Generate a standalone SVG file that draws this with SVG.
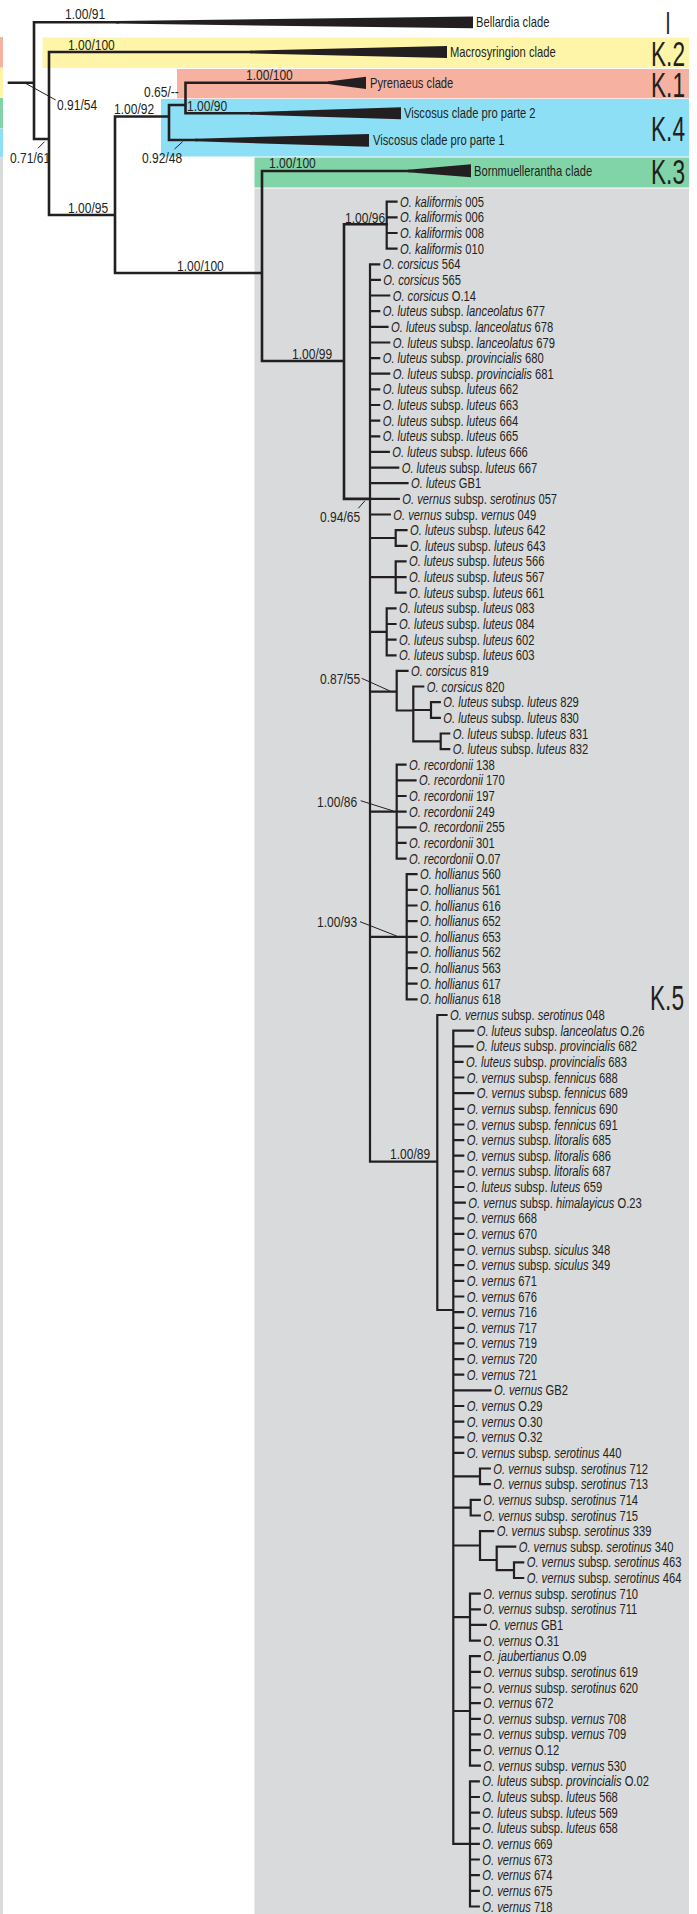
<svg xmlns="http://www.w3.org/2000/svg" width="697" height="1914" viewBox="0 0 697 1914">
<style>
text{font-family:"Liberation Sans",Arial,sans-serif;fill:#231f20}
.t{font-size:14px}
.s{font-size:14.5px}
.K{font-size:36px;text-anchor:middle}
.i{font-style:italic}
.brt{fill:none;stroke:#231f20;stroke-width:2.6;stroke-linecap:square}
.br{fill:none;stroke:#231f20;stroke-width:2.2;stroke-linecap:square}
.ld{fill:none;stroke:#231f20;stroke-width:1}
.tri{fill:#231f20}
</style>
<g id="bands">
<rect x="0" y="0" width="697" height="1914" fill="#ffffff"/>
<rect x="0" y="37" width="3" height="30.5" fill="#f6b1a1"/>
<rect x="0" y="68" width="3" height="29.5" fill="#fef5a9"/>
<rect x="0" y="98" width="3" height="30.5" fill="#80d4a7"/>
<rect x="0" y="129" width="3" height="28.5" fill="#8ddff6"/>
<rect x="0" y="158" width="3" height="1756" fill="#d9dadb"/>
<rect x="42.5" y="37.5" width="646.5" height="30.5" fill="#fef5a9"/>
<rect x="177" y="69" width="512" height="29.3" fill="#f6b1a1"/>
<rect x="161" y="99" width="528" height="57.5" fill="#8ddff6"/>
<rect x="254.5" y="157.5" width="434.5" height="30" fill="#80d4a7"/>
<rect x="254.5" y="188.5" width="434.5" height="1725.5" fill="#d9dadb"/>
</g>
<g id="connectors">
<path class="brt" d="M9,82.7H34M34,22.3V139M34,22.3H118M34,139H49M49,52V215M49,52H252M49,215H115M115,116.5V273M115,116.5H169M115,273H262M169,105V140M169,105H185.5M169,140H197M185.5,82.7V113.3M185.5,82.7H330M185.5,113.3H252M262,171V361M262,171H410M262,361H344M344,224.3V498.9M344,224.3H386.7M344,498.9H370"/>
<polygon class="tri" points="116,21 473,16.6 473,28.2 116,23.6"/>
<polygon class="tri" points="250,50.7 447,46 447,58 250,53.3"/>
<polygon class="tri" points="328,81.4 366,76.7 366,89 328,84"/>
<polygon class="tri" points="250,112 401,107.3 401,119.3 250,114.6"/>
<polygon class="tri" points="195,138.7 369,134 369,146.7 195,141.3"/>
<polygon class="tri" points="408,169.7 471,164.3 471,177.3 408,172.3"/>
<path class="br" d="M386.7,201.7V248.6M386.7,201.7H396.5M386.7,217.3H396.5M386.7,233H396.5M386.7,248.6H396.5
M370,264.3V1161.7
M370,264.3H379.2M370,279.9H379.8M370,295.5H389.2M370,311.2H379.2M370,326.8H387.5M370,342.5H389.2M370,358.1H379.2M370,373.7H389.2M370,389.4H379.2M370,405H379.2M370,420.7H379.2M370,436.3H379.2M370,451.9H388.8M370,467.6H398.2M370,483.2H407.5M370,498.9H398.8M370,514.5H389.8
M370,538H395.7M395.7,530.1V545.8M395.7,530.1H406.5M395.7,545.8H406.5
M370,577.1H395.7M395.7,561.4V592.7M395.7,561.4H405.5M395.7,577.1H405.5M395.7,592.7H405.5
M370,631.8H386.7M386.7,608.3V655.3M386.7,608.3H395.5M386.7,624H395.5M386.7,639.6H395.5M386.7,655.3H395.5
M370,691.7H396.7M396.7,670.9V710.5M396.7,670.9H407.5M396.7,710.5H413.3
M413.3,686.5V741.3M413.3,686.5H423.2M413.3,710H431M413.3,741.3H440.7
M431,702.2V717.8M431,702.2H439.8M431,717.8H439.8
M440.7,733.5V749.1M440.7,733.5H449.2M440.7,749.1H449.2
M370,811.7H396.7M396.7,764.7V858.6M396.7,764.7H405.5M396.7,780.4H415.5M396.7,796H405.5M396.7,811.7H405.5M396.7,827.3H415.5M396.7,842.9H405.5M396.7,858.6H405.5
M370,936.8H406.7M406.7,874.2V999.3M406.7,874.2H416.5M406.7,889.9H416.5M406.7,905.5H416.5M406.7,921.1H416.5M406.7,936.8H416.5M406.7,952.4H416.5M406.7,968.1H416.5M406.7,983.7H416.5M406.7,999.3H416.5
M370,1161.7H437.3M437.3,1015V1310M437.3,1015H446.5M437.3,1310H453.3
M453.3,1030.6V1843.9
M453.3,1030.6H473.2M453.3,1046.3H472.5M453.3,1061.9H462.5M453.3,1077.5H463.2M453.3,1093.2H473.2M453.3,1108.8H463.2M453.3,1124.5H463.2M453.3,1140.1H463.2M453.3,1155.7H463.2M453.3,1171.4H463.2M453.3,1187H463.2M453.3,1202.7H464.8M453.3,1218.3H463.2M453.3,1233.9H463.2M453.3,1249.6H463.2M453.3,1265.2H463.2M453.3,1280.9H463.2M453.3,1296.5H463.2M453.3,1312.1H463.2M453.3,1327.8H463.2M453.3,1343.4H463.2M453.3,1359.1H463.2M453.3,1374.7H463.2M453.3,1390.3H490.5M453.3,1406H463.2M453.3,1421.6H463.2M453.3,1437.3H463.2M453.3,1452.9H463.2
M453.3,1476.4H480M480,1468.5V1484.2M480,1468.5H489.8M480,1484.2H489.8
M453.3,1507.7H470.7M470.7,1499.8V1515.5M470.7,1499.8H479.8M470.7,1515.5H479.8
M453.3,1545.5H480M480,1531.1V1560M480,1531.1H493.2M480,1560H496.7
M496.7,1546.7V1570.2M496.7,1546.7H515.2M496.7,1570.2H514
M514,1562.4V1578M514,1562.4H523.2M514,1578H523.2
M453.3,1617.1H470M470,1593.7V1640.6M470,1593.7H479.8M470,1609.3H479.8M470,1624.9H485.8M470,1640.6H479.8
M453.3,1711H470M470,1656.2V1765.7M470,1656.2H479.8M470,1671.9H479.8M470,1687.5H479.8M470,1703.1H479.8M470,1718.8H479.8M470,1734.4H479.8M470,1750.1H479.8M470,1765.7H479.8
M453.3,1843.9H470M470,1781.3V1906.5M470,1781.3H478.8M470,1797H478.8M470,1812.6H478.8M470,1828.3H478.8M470,1843.9H478.8M470,1859.5H478.8M470,1875.2H478.8M470,1890.8H478.8M470,1906.5H478.8"/>
<path class="ld" d="M25.5,83.3L55.7,100M44.5,141.7L37.9,148.3M182.6,141.7L174.6,149M365,500.7L358.3,508.3M361.7,678.3L390,691M360.7,800.7L393.3,811M360,921.7L396.7,936"/>
</g>
<g id="support">
<text class="s" transform="translate(65,19) scale(0.83,1)">1.00/91</text>
<text class="s" transform="translate(68,49.5) scale(0.83,1)">1.00/100</text>
<text class="s" transform="translate(57,110) scale(0.83,1)">0.91/54</text>
<text class="s" transform="translate(10,163) scale(0.83,1)">0.71/61</text>
<text class="s" transform="translate(246,80) scale(0.83,1)">1.00/100</text>
<text class="s" transform="translate(144,97) scale(0.83,1)">0.65/--</text>
<text class="s" transform="translate(187,110.5) scale(0.83,1)">1.00/90</text>
<text class="s" transform="translate(114,114) scale(0.83,1)">1.00/92</text>
<text class="s" transform="translate(142,163) scale(0.83,1)">0.92/48</text>
<text class="s" transform="translate(68,212.5) scale(0.83,1)">1.00/95</text>
<text class="s" transform="translate(177,270.5) scale(0.83,1)">1.00/100</text>
<text class="s" transform="translate(269,167.5) scale(0.83,1)">1.00/100</text>
<text class="s" transform="translate(345,222.5) scale(0.83,1)">1.00/96</text>
<text class="s" transform="translate(292,358.5) scale(0.83,1)">1.00/99</text>
<text class="s" transform="translate(320,521.5) scale(0.83,1)">0.94/65</text>
<text class="s" transform="translate(320,684) scale(0.83,1)">0.87/55</text>
<text class="s" transform="translate(317,806.5) scale(0.83,1)">1.00/86</text>
<text class="s" transform="translate(317,927.3) scale(0.83,1)">1.00/93</text>
<text class="s" transform="translate(390,1159) scale(0.83,1)">1.00/89</text>
</g>
<g id="clade-labels">
<g id="bellardia"><text class="t" transform="translate(476,27) scale(0.8,1)">Bellardia clade</text></g>
<g id="macrosyringion"><text class="t" transform="translate(450,57) scale(0.8,1)">Macrosyringion clade</text></g>
<g id="pyrenaeus"><text class="t" transform="translate(370,87.7) scale(0.8,1)">Pyrenaeus clade</text></g>
<g id="viscosus2"><text class="t" transform="translate(404,118.3) scale(0.8,1)">Viscosus clade pro parte 2</text></g>
<g id="viscosus1"><text class="t" transform="translate(373,145) scale(0.8,1)">Viscosus clade pro parte 1</text></g>
<g id="bornmuellerantha"><text class="t" transform="translate(474,176) scale(0.8,1)">Bornmuellerantha clade</text></g>
<g id="lab-I"><text class="K" style="font-size:31px" transform="translate(668,34) scale(0.63,1)">I</text></g>
<g id="lab-K2"><text class="K" transform="translate(668,65.7) scale(0.63,1)">K.2</text></g>
<g id="lab-K1"><text class="K" transform="translate(668,96.7) scale(0.63,1)">K.1</text></g>
<g id="lab-K4"><text class="K" transform="translate(668,140.7) scale(0.63,1)">K.4</text></g>
<g id="lab-K3"><text class="K" transform="translate(668,184.3) scale(0.63,1)">K.3</text></g>
<g id="lab-K5"><text class="K" transform="translate(667,1010) scale(0.63,1)">K.5</text></g>
</g>
<g id="tips" class="t">
<g id="tip1"><text class="t" transform="translate(400,206.7) scale(0.8,1)"><tspan class="i">O. kaliformis</tspan> 005</text></g>
<g id="tip2"><text class="t" transform="translate(400,222.3) scale(0.8,1)"><tspan class="i">O. kaliformis</tspan> 006</text></g>
<g id="tip3"><text class="t" transform="translate(400,238) scale(0.8,1)"><tspan class="i">O. kaliformis</tspan> 008</text></g>
<g id="tip4"><text class="t" transform="translate(400,253.6) scale(0.8,1)"><tspan class="i">O. kaliformis</tspan> 010</text></g>
<g id="tip5"><text class="t" transform="translate(382.7,269.3) scale(0.8,1)"><tspan class="i">O. corsicus</tspan> 564</text></g>
<g id="tip6"><text class="t" transform="translate(383.3,284.9) scale(0.8,1)"><tspan class="i">O. corsicus</tspan> 565</text></g>
<g id="tip7"><text class="t" transform="translate(392.7,300.5) scale(0.8,1)"><tspan class="i">O. corsicus</tspan> O.14</text></g>
<g id="tip8"><text class="t" transform="translate(382.7,316.2) scale(0.8,1)"><tspan class="i">O. luteus</tspan> subsp. <tspan class="i">lanceolatus</tspan> 677</text></g>
<g id="tip9"><text class="t" transform="translate(391,331.8) scale(0.8,1)"><tspan class="i">O. luteus</tspan> subsp. <tspan class="i">lanceolatus</tspan> 678</text></g>
<g id="tip10"><text class="t" transform="translate(392.7,347.5) scale(0.8,1)"><tspan class="i">O. luteus</tspan> subsp. <tspan class="i">lanceolatus</tspan> 679</text></g>
<g id="tip11"><text class="t" transform="translate(382.7,363.1) scale(0.8,1)"><tspan class="i">O. luteus</tspan> subsp. <tspan class="i">provincialis</tspan> 680</text></g>
<g id="tip12"><text class="t" transform="translate(392.7,378.7) scale(0.8,1)"><tspan class="i">O. luteus</tspan> subsp. <tspan class="i">provincialis</tspan> 681</text></g>
<g id="tip13"><text class="t" transform="translate(382.7,394.4) scale(0.8,1)"><tspan class="i">O. luteus</tspan> subsp. <tspan class="i">luteus</tspan> 662</text></g>
<g id="tip14"><text class="t" transform="translate(382.7,410) scale(0.8,1)"><tspan class="i">O. luteus</tspan> subsp. <tspan class="i">luteus</tspan> 663</text></g>
<g id="tip15"><text class="t" transform="translate(382.7,425.7) scale(0.8,1)"><tspan class="i">O. luteus</tspan> subsp. <tspan class="i">luteus</tspan> 664</text></g>
<g id="tip16"><text class="t" transform="translate(382.7,441.3) scale(0.8,1)"><tspan class="i">O. luteus</tspan> subsp. <tspan class="i">luteus</tspan> 665</text></g>
<g id="tip17"><text class="t" transform="translate(392.3,456.9) scale(0.8,1)"><tspan class="i">O. luteus</tspan> subsp. <tspan class="i">luteus</tspan> 666</text></g>
<g id="tip18"><text class="t" transform="translate(401.7,472.6) scale(0.8,1)"><tspan class="i">O. luteus</tspan> subsp. <tspan class="i">luteus</tspan> 667</text></g>
<g id="tip19"><text class="t" transform="translate(411,488.2) scale(0.8,1)"><tspan class="i">O. luteus</tspan> GB1</text></g>
<g id="tip20"><text class="t" transform="translate(402.3,503.9) scale(0.8,1)"><tspan class="i">O. vernus</tspan> subsp. <tspan class="i">serotinus</tspan> 057</text></g>
<g id="tip21"><text class="t" transform="translate(393.3,519.5) scale(0.8,1)"><tspan class="i">O. vernus</tspan> subsp. <tspan class="i">vernus</tspan> 049</text></g>
<g id="tip22"><text class="t" transform="translate(410,535.1) scale(0.8,1)"><tspan class="i">O. luteus</tspan> subsp. <tspan class="i">luteus</tspan> 642</text></g>
<g id="tip23"><text class="t" transform="translate(410,550.8) scale(0.8,1)"><tspan class="i">O. luteus</tspan> subsp. <tspan class="i">luteus</tspan> 643</text></g>
<g id="tip24"><text class="t" transform="translate(409,566.4) scale(0.8,1)"><tspan class="i">O. luteus</tspan> subsp. <tspan class="i">luteus</tspan> 566</text></g>
<g id="tip25"><text class="t" transform="translate(409,582.1) scale(0.8,1)"><tspan class="i">O. luteus</tspan> subsp. <tspan class="i">luteus</tspan> 567</text></g>
<g id="tip26"><text class="t" transform="translate(409,597.7) scale(0.8,1)"><tspan class="i">O. luteus</tspan> subsp. <tspan class="i">luteus</tspan> 661</text></g>
<g id="tip27"><text class="t" transform="translate(399,613.3) scale(0.8,1)"><tspan class="i">O. luteus</tspan> subsp. <tspan class="i">luteus</tspan> 083</text></g>
<g id="tip28"><text class="t" transform="translate(399,629) scale(0.8,1)"><tspan class="i">O. luteus</tspan> subsp. <tspan class="i">luteus</tspan> 084</text></g>
<g id="tip29"><text class="t" transform="translate(399,644.6) scale(0.8,1)"><tspan class="i">O. luteus</tspan> subsp. <tspan class="i">luteus</tspan> 602</text></g>
<g id="tip30"><text class="t" transform="translate(399,660.3) scale(0.8,1)"><tspan class="i">O. luteus</tspan> subsp. <tspan class="i">luteus</tspan> 603</text></g>
<g id="tip31"><text class="t" transform="translate(411,675.9) scale(0.8,1)"><tspan class="i">O. corsicus</tspan> 819</text></g>
<g id="tip32"><text class="t" transform="translate(426.7,691.5) scale(0.8,1)"><tspan class="i">O. corsicus</tspan> 820</text></g>
<g id="tip33"><text class="t" transform="translate(443.3,707.2) scale(0.8,1)"><tspan class="i">O. luteus</tspan> subsp. <tspan class="i">luteus</tspan> 829</text></g>
<g id="tip34"><text class="t" transform="translate(443.3,722.8) scale(0.8,1)"><tspan class="i">O. luteus</tspan> subsp. <tspan class="i">luteus</tspan> 830</text></g>
<g id="tip35"><text class="t" transform="translate(452.7,738.5) scale(0.8,1)"><tspan class="i">O. luteus</tspan> subsp. <tspan class="i">luteus</tspan> 831</text></g>
<g id="tip36"><text class="t" transform="translate(452.7,754.1) scale(0.8,1)"><tspan class="i">O. luteus</tspan> subsp. <tspan class="i">luteus</tspan> 832</text></g>
<g id="tip37"><text class="t" transform="translate(409,769.7) scale(0.8,1)"><tspan class="i">O. recordonii</tspan> 138</text></g>
<g id="tip38"><text class="t" transform="translate(419,785.4) scale(0.8,1)"><tspan class="i">O. recordonii</tspan> 170</text></g>
<g id="tip39"><text class="t" transform="translate(409,801) scale(0.8,1)"><tspan class="i">O. recordonii</tspan> 197</text></g>
<g id="tip40"><text class="t" transform="translate(409,816.7) scale(0.8,1)"><tspan class="i">O. recordonii</tspan> 249</text></g>
<g id="tip41"><text class="t" transform="translate(419,832.3) scale(0.8,1)"><tspan class="i">O. recordonii</tspan> 255</text></g>
<g id="tip42"><text class="t" transform="translate(409,847.9) scale(0.8,1)"><tspan class="i">O. recordonii</tspan> 301</text></g>
<g id="tip43"><text class="t" transform="translate(409,863.6) scale(0.8,1)"><tspan class="i">O. recordonii</tspan> O.07</text></g>
<g id="tip44"><text class="t" transform="translate(420,879.2) scale(0.8,1)"><tspan class="i">O. hollianus</tspan> 560</text></g>
<g id="tip45"><text class="t" transform="translate(420,894.9) scale(0.8,1)"><tspan class="i">O. hollianus</tspan> 561</text></g>
<g id="tip46"><text class="t" transform="translate(420,910.5) scale(0.8,1)"><tspan class="i">O. hollianus</tspan> 616</text></g>
<g id="tip47"><text class="t" transform="translate(420,926.1) scale(0.8,1)"><tspan class="i">O. hollianus</tspan> 652</text></g>
<g id="tip48"><text class="t" transform="translate(420,941.8) scale(0.8,1)"><tspan class="i">O. hollianus</tspan> 653</text></g>
<g id="tip49"><text class="t" transform="translate(420,957.4) scale(0.8,1)"><tspan class="i">O. hollianus</tspan> 562</text></g>
<g id="tip50"><text class="t" transform="translate(420,973.1) scale(0.8,1)"><tspan class="i">O. hollianus</tspan> 563</text></g>
<g id="tip51"><text class="t" transform="translate(420,988.7) scale(0.8,1)"><tspan class="i">O. hollianus</tspan> 617</text></g>
<g id="tip52"><text class="t" transform="translate(420,1004.3) scale(0.8,1)"><tspan class="i">O. hollianus</tspan> 618</text></g>
<g id="tip53"><text class="t" transform="translate(450,1020) scale(0.8,1)"><tspan class="i">O. vernus</tspan> subsp. <tspan class="i">serotinus</tspan> 048</text></g>
<g id="tip54"><text class="t" transform="translate(476.7,1035.6) scale(0.8,1)"><tspan class="i">O. luteus</tspan> subsp. <tspan class="i">lanceolatus</tspan> O.26</text></g>
<g id="tip55"><text class="t" transform="translate(476,1051.3) scale(0.8,1)"><tspan class="i">O. luteus</tspan> subsp. <tspan class="i">provincialis</tspan> 682</text></g>
<g id="tip56"><text class="t" transform="translate(466,1066.9) scale(0.8,1)"><tspan class="i">O. luteus</tspan> subsp. <tspan class="i">provincialis</tspan> 683</text></g>
<g id="tip57"><text class="t" transform="translate(466.7,1082.5) scale(0.8,1)"><tspan class="i">O. vernus</tspan> subsp. <tspan class="i">fennicus</tspan> 688</text></g>
<g id="tip58"><text class="t" transform="translate(476.7,1098.2) scale(0.8,1)"><tspan class="i">O. vernus</tspan> subsp. <tspan class="i">fennicus</tspan> 689</text></g>
<g id="tip59"><text class="t" transform="translate(466.7,1113.8) scale(0.8,1)"><tspan class="i">O. vernus</tspan> subsp. <tspan class="i">fennicus</tspan> 690</text></g>
<g id="tip60"><text class="t" transform="translate(466.7,1129.5) scale(0.8,1)"><tspan class="i">O. vernus</tspan> subsp. <tspan class="i">fennicus</tspan> 691</text></g>
<g id="tip61"><text class="t" transform="translate(466.7,1145.1) scale(0.8,1)"><tspan class="i">O. vernus</tspan> subsp. <tspan class="i">litoralis</tspan> 685</text></g>
<g id="tip62"><text class="t" transform="translate(466.7,1160.7) scale(0.8,1)"><tspan class="i">O. vernus</tspan> subsp. <tspan class="i">litoralis</tspan> 686</text></g>
<g id="tip63"><text class="t" transform="translate(466.7,1176.4) scale(0.8,1)"><tspan class="i">O. vernus</tspan> subsp. <tspan class="i">litoralis</tspan> 687</text></g>
<g id="tip64"><text class="t" transform="translate(466.7,1192) scale(0.8,1)"><tspan class="i">O. luteus</tspan> subsp. <tspan class="i">luteus</tspan> 659</text></g>
<g id="tip65"><text class="t" transform="translate(468.3,1207.7) scale(0.8,1)"><tspan class="i">O. vernus</tspan> subsp. <tspan class="i">himalayicus</tspan> O.23</text></g>
<g id="tip66"><text class="t" transform="translate(466.7,1223.3) scale(0.8,1)"><tspan class="i">O. vernus</tspan> 668</text></g>
<g id="tip67"><text class="t" transform="translate(466.7,1238.9) scale(0.8,1)"><tspan class="i">O. vernus</tspan> 670</text></g>
<g id="tip68"><text class="t" transform="translate(466.7,1254.6) scale(0.8,1)"><tspan class="i">O. vernus</tspan> subsp. <tspan class="i">siculus</tspan> 348</text></g>
<g id="tip69"><text class="t" transform="translate(466.7,1270.2) scale(0.8,1)"><tspan class="i">O. vernus</tspan> subsp. <tspan class="i">siculus</tspan> 349</text></g>
<g id="tip70"><text class="t" transform="translate(466.7,1285.9) scale(0.8,1)"><tspan class="i">O. vernus</tspan> 671</text></g>
<g id="tip71"><text class="t" transform="translate(466.7,1301.5) scale(0.8,1)"><tspan class="i">O. vernus</tspan> 676</text></g>
<g id="tip72"><text class="t" transform="translate(466.7,1317.1) scale(0.8,1)"><tspan class="i">O. vernus</tspan> 716</text></g>
<g id="tip73"><text class="t" transform="translate(466.7,1332.8) scale(0.8,1)"><tspan class="i">O. vernus</tspan> 717</text></g>
<g id="tip74"><text class="t" transform="translate(466.7,1348.4) scale(0.8,1)"><tspan class="i">O. vernus</tspan> 719</text></g>
<g id="tip75"><text class="t" transform="translate(466.7,1364.1) scale(0.8,1)"><tspan class="i">O. vernus</tspan> 720</text></g>
<g id="tip76"><text class="t" transform="translate(466.7,1379.7) scale(0.8,1)"><tspan class="i">O. vernus</tspan> 721</text></g>
<g id="tip77"><text class="t" transform="translate(494,1395.3) scale(0.8,1)"><tspan class="i">O. vernus</tspan> GB2</text></g>
<g id="tip78"><text class="t" transform="translate(466.7,1411) scale(0.8,1)"><tspan class="i">O. vernus</tspan> O.29</text></g>
<g id="tip79"><text class="t" transform="translate(466.7,1426.6) scale(0.8,1)"><tspan class="i">O. vernus</tspan> O.30</text></g>
<g id="tip80"><text class="t" transform="translate(466.7,1442.3) scale(0.8,1)"><tspan class="i">O. vernus</tspan> O.32</text></g>
<g id="tip81"><text class="t" transform="translate(466.7,1457.9) scale(0.8,1)"><tspan class="i">O. vernus</tspan> subsp. <tspan class="i">serotinus</tspan> 440</text></g>
<g id="tip82"><text class="t" transform="translate(493.3,1473.5) scale(0.8,1)"><tspan class="i">O. vernus</tspan> subsp. <tspan class="i">serotinus</tspan> 712</text></g>
<g id="tip83"><text class="t" transform="translate(493.3,1489.2) scale(0.8,1)"><tspan class="i">O. vernus</tspan> subsp. <tspan class="i">serotinus</tspan> 713</text></g>
<g id="tip84"><text class="t" transform="translate(483.3,1504.8) scale(0.8,1)"><tspan class="i">O. vernus</tspan> subsp. <tspan class="i">serotinus</tspan> 714</text></g>
<g id="tip85"><text class="t" transform="translate(483.3,1520.5) scale(0.8,1)"><tspan class="i">O. vernus</tspan> subsp. <tspan class="i">serotinus</tspan> 715</text></g>
<g id="tip86"><text class="t" transform="translate(496.7,1536.1) scale(0.8,1)"><tspan class="i">O. vernus</tspan> subsp. <tspan class="i">serotinus</tspan> 339</text></g>
<g id="tip87"><text class="t" transform="translate(518.7,1551.7) scale(0.8,1)"><tspan class="i">O. vernus</tspan> subsp. <tspan class="i">serotinus</tspan> 340</text></g>
<g id="tip88"><text class="t" transform="translate(526.7,1567.4) scale(0.8,1)"><tspan class="i">O. vernus</tspan> subsp. <tspan class="i">serotinus</tspan> 463</text></g>
<g id="tip89"><text class="t" transform="translate(526.7,1583) scale(0.8,1)"><tspan class="i">O. vernus</tspan> subsp. <tspan class="i">serotinus</tspan> 464</text></g>
<g id="tip90"><text class="t" transform="translate(483.3,1598.7) scale(0.8,1)"><tspan class="i">O. vernus</tspan> subsp. <tspan class="i">serotinus</tspan> 710</text></g>
<g id="tip91"><text class="t" transform="translate(483.3,1614.3) scale(0.8,1)"><tspan class="i">O. vernus</tspan> subsp. <tspan class="i">serotinus</tspan> 711</text></g>
<g id="tip92"><text class="t" transform="translate(489.3,1629.9) scale(0.8,1)"><tspan class="i">O. vernus</tspan> GB1</text></g>
<g id="tip93"><text class="t" transform="translate(483.3,1645.6) scale(0.8,1)"><tspan class="i">O. vernus</tspan> O.31</text></g>
<g id="tip94"><text class="t" transform="translate(483.3,1661.2) scale(0.8,1)"><tspan class="i">O. jaubertianus</tspan> O.09</text></g>
<g id="tip95"><text class="t" transform="translate(483.3,1676.9) scale(0.8,1)"><tspan class="i">O. vernus</tspan> subsp. <tspan class="i">serotinus</tspan> 619</text></g>
<g id="tip96"><text class="t" transform="translate(483.3,1692.5) scale(0.8,1)"><tspan class="i">O. vernus</tspan> subsp. <tspan class="i">serotinus</tspan> 620</text></g>
<g id="tip97"><text class="t" transform="translate(483.3,1708.1) scale(0.8,1)"><tspan class="i">O. vernus</tspan> 672</text></g>
<g id="tip98"><text class="t" transform="translate(483.3,1723.8) scale(0.8,1)"><tspan class="i">O. vernus</tspan> subsp. <tspan class="i">vernus</tspan> 708</text></g>
<g id="tip99"><text class="t" transform="translate(483.3,1739.4) scale(0.8,1)"><tspan class="i">O. vernus</tspan> subsp. <tspan class="i">vernus</tspan> 709</text></g>
<g id="tip100"><text class="t" transform="translate(483.3,1755.1) scale(0.8,1)"><tspan class="i">O. vernus</tspan> O.12</text></g>
<g id="tip101"><text class="t" transform="translate(483.3,1770.7) scale(0.8,1)"><tspan class="i">O. vernus</tspan> subsp. <tspan class="i">vernus</tspan> 530</text></g>
<g id="tip102"><text class="t" transform="translate(482.3,1786.3) scale(0.8,1)"><tspan class="i">O. luteus</tspan> subsp. <tspan class="i">provincialis</tspan> O.02</text></g>
<g id="tip103"><text class="t" transform="translate(482.3,1802) scale(0.8,1)"><tspan class="i">O. luteus</tspan> subsp. <tspan class="i">luteus</tspan> 568</text></g>
<g id="tip104"><text class="t" transform="translate(482.3,1817.6) scale(0.8,1)"><tspan class="i">O. luteus</tspan> subsp. <tspan class="i">luteus</tspan> 569</text></g>
<g id="tip105"><text class="t" transform="translate(482.3,1833.3) scale(0.8,1)"><tspan class="i">O. luteus</tspan> subsp. <tspan class="i">luteus</tspan> 658</text></g>
<g id="tip106"><text class="t" transform="translate(482.3,1848.9) scale(0.8,1)"><tspan class="i">O. vernus</tspan> 669</text></g>
<g id="tip107"><text class="t" transform="translate(482.3,1864.5) scale(0.8,1)"><tspan class="i">O. vernus</tspan> 673</text></g>
<g id="tip108"><text class="t" transform="translate(482.3,1880.2) scale(0.8,1)"><tspan class="i">O. vernus</tspan> 674</text></g>
<g id="tip109"><text class="t" transform="translate(482.3,1895.8) scale(0.8,1)"><tspan class="i">O. vernus</tspan> 675</text></g>
<g id="tip110"><text class="t" transform="translate(482.3,1911.5) scale(0.8,1)"><tspan class="i">O. vernus</tspan> 718</text></g>
</g>
</svg>
